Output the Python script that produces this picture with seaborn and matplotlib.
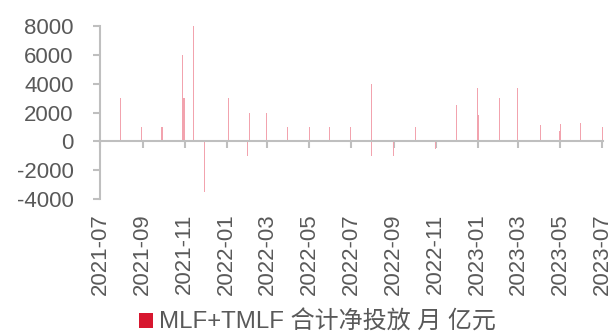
import matplotlib
matplotlib.use("Agg")
import matplotlib.pyplot as plt
import matplotlib.dates as mdates
from matplotlib.patches import Patch
import seaborn as sns
import pandas as pd

# MLF + TMLF net injection by operation date (100 million yuan)
dates = [
    "2021-07-31", "2021-08-30", "2021-09-29", "2021-10-29", "2021-10-31",
    "2021-11-14", "2021-11-30", "2022-01-03", "2022-01-31", "2022-02-03",
    "2022-02-28", "2022-03-30", "2022-05-01", "2022-05-02", "2022-05-30",
    "2022-06-30", "2022-07-30", "2022-07-31", "2022-08-31", "2022-10-03",
    "2022-10-31", "2022-12-01", "2023-01-01", "2023-01-02", "2023-02-01",
    "2023-02-28", "2023-04-02", "2023-04-30", "2023-05-01", "2023-05-31",
    "2023-07-01",
]
net_injection = [
    3000, 1000, 1000, 6000, 3000,
    8000, -3500, 3000, -1000, 2000,
    2000, 1000, 1000, 500, 1000,
    1000, 4000, -1000, -1000, 1000,
    -500, 2500, 3700, 1800, 3000,
    3700, 1100, 700, 1200, 1300,
    1000,
]
series_name = "MLF+TMLF 合计净投放 月 亿元"
y_ticks = [-4000, -2000, 0, 2000, 4000, 6000, 8000]

df = pd.DataFrame({"date": pd.to_datetime(dates), "value": net_injection})

sns.set_theme(style="white")
plt.rcParams["font.family"] = ["Liberation Sans", "Noto Sans CJK SC", "DejaVu Sans"]

text_color = "#595959"
axis_color = "#BFBFBF"
bar_color = "#F2A3AE"

fig = plt.figure(figsize=(6.14, 3.36), dpi=100)
ax = fig.add_axes([0.163, 0.4077, 0.819, 0.5149])

# daily bars, about one pixel wide
ax.bar(df["date"], df["value"], width=1.5, color=bar_color, linewidth=0)

ax.set_xlim(pd.Timestamp("2021-07-01"), pd.Timestamp("2023-07-02"))
ax.set_ylim(-4000, 8000)
ax.set_yticks(y_ticks)
ax.set_yticklabels([str(v) for v in y_ticks])

ax.xaxis.set_major_locator(mdates.MonthLocator(bymonth=[1, 3, 5, 7, 9, 11]))
ax.xaxis.set_major_formatter(mdates.DateFormatter("%Y-%m"))

for side in ("top", "right"):
    ax.spines[side].set_visible(False)
ax.spines["bottom"].set_position(("data", 0))
for side in ("left", "bottom"):
    ax.spines[side].set_color(axis_color)
    ax.spines[side].set_linewidth(1.5)

ax.tick_params(axis="y", direction="out", length=5, width=1.5,
               color=axis_color, labelcolor=text_color, labelsize=16, pad=14,
               left=True)
ax.tick_params(axis="x", direction="out", length=5, width=1.5,
               color=axis_color, labelcolor=text_color, labelsize=16, pad=47,
               bottom=True, labelrotation=90)
for lab in ax.get_xticklabels():
    lab.set_ha("center")
    lab.set_va("top")

ax.grid(False)

handle = Patch(facecolor="#D7172F", edgecolor="none")
fig.legend([handle], [series_name], loc="center", bbox_to_anchor=(0.517, 0.04),
           frameon=False, fontsize=17.3, handlelength=0.6, handleheight=0.6,
           handletextpad=0.25, labelcolor=text_color, borderpad=0)

fig.savefig("out.png", dpi=100)
